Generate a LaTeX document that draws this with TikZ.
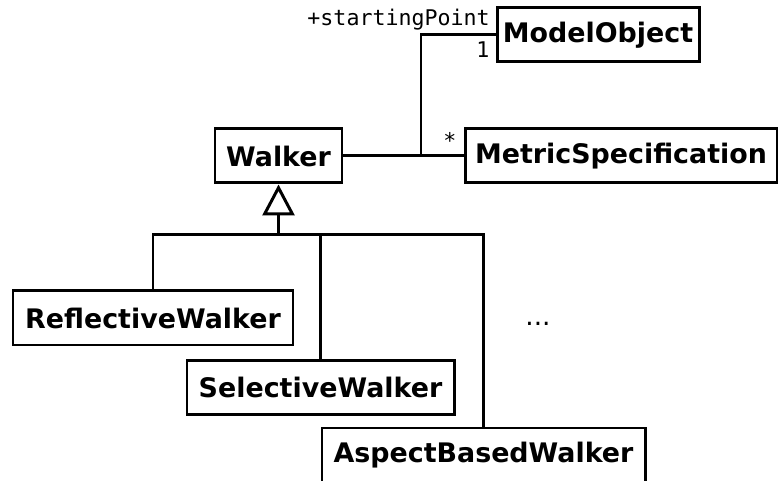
\documentclass[tikz,border=0pt]{standalone}
\usepackage{fontspec}
\setmainfont{DejaVu Sans}
\newfontfamily\monofont{DejaVu Sans Mono}
\usetikzlibrary{arrows.meta}

\begin{document}
\begin{tikzpicture}
    \tikzstyle{class}=[draw=black,line width=1.7pt,fill=white,inner sep=0pt,minimum height=1.08cm,font=\fontsize{15.3}{18}\selectfont\bfseries]
    \tikzstyle{role}=[inner sep=0pt,font=\fontsize{12.3}{14}\selectfont\monofont]
    \tikzstyle{link}=[line width=1.7pt]
    \useasboundingbox (0,0) rectangle (15.56,9.62);
    \node (mo)[class,minimum width=4.04cm] at (11.96,8.92) {ModelObject};
    \node (w)[class,minimum width=2.54cm] at (5.57,6.5) {Walker};
    \node (ms)[class,minimum width=6.24cm] at (12.42,6.5) {MetricSpecification};
    \node (rw)[class,minimum width=5.6cm] at (3.06,3.26) {ReflectiveWalker};
    \node (sw)[class,minimum width=5.34cm] at (6.41,1.87) {SelectiveWalker};
    \node (ab)[class,minimum width=6.46cm] at (9.67,0.52) {AspectBasedWalker};
    \node (sp)[role,anchor=east] at (9.8,9.22) {+startingPoint};
    \node (one)[role] at (9.66,8.62) {1};
    \node (many)[role] at (9.0,6.82) {*};
    \node (more) at (10.76,3.14) {\fontsize{15}{18}\selectfont ...};
    \coordinate (j) at (8.42,6.5);
    \coordinate (t) at (5.57,4.92);
    \draw[link] (w) -- (ms);
    \draw[link] (j) |- (mo);
    \draw[link,-{Triangle[open,length=0.62cm,width=0.64cm]}] (t) -- (w.south);
    \draw[link] (t) -| (rw);
    \draw[link] (t) -| (sw);
    \draw[link] (t) -| (ab);
\end{tikzpicture}
\end{document}
